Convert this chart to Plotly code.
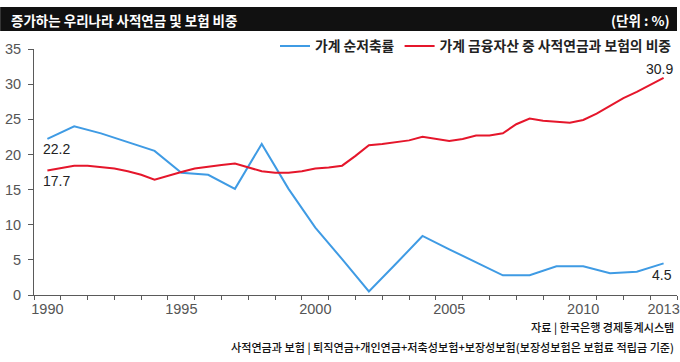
import plotly.graph_objects as go

# ---- data ----
years = [1990, 1991, 1992, 1993, 1994, 1995, 1996, 1997, 1998, 1999, 2000, 2001,
         2002, 2003, 2004, 2005, 2006, 2007, 2008, 2009, 2010, 2011, 2012, 2013]
saving_rate = [22.2, 24.0, 23.0, 21.8, 20.5, 17.4, 17.1, 15.1, 21.5, 15.1, 9.6, 5.1,
               0.5, 4.4, 8.4, 6.5, 4.7, 2.8, 2.8, 4.1, 4.1, 3.1, 3.3, 4.5]

half_years = [1990.0, 1990.5, 1991.0, 1991.5, 1992.0, 1992.5, 1993.0, 1993.5,
              1994.0, 1994.5, 1995.0, 1995.5, 1996.0, 1996.5, 1997.0, 1997.5,
              1998.0, 1998.5, 1999.0, 1999.5, 2000.0, 2000.5, 2001.0, 2001.5,
              2002.0, 2002.5, 2003.0, 2003.5, 2004.0, 2004.5, 2005.0, 2005.5,
              2006.0, 2006.5, 2007.0, 2007.5, 2008.0, 2008.5, 2009.0, 2009.5,
              2010.0, 2010.5, 2011.0, 2011.5, 2012.0, 2012.5, 2013.0]
pension_share = [17.7, 18.1, 18.4, 18.4, 18.2, 18.0, 17.6, 17.1,
                 16.4, 17.0, 17.5, 18.0, 18.3, 18.5, 18.7, 18.1,
                 17.6, 17.4, 17.4, 17.6, 18.0, 18.15, 18.4, 19.8,
                 21.3, 21.5, 21.7, 22.0, 22.5, 22.2, 21.9, 22.2,
                 22.7, 22.7, 23.0, 24.3, 25.1, 24.8, 24.6, 24.5,
                 24.9, 25.8, 26.9, 28.0, 28.9, 29.9, 30.9]

x_tick_vals = [1990, 1995, 2000, 2005, 2010, 2013]
x_tick_text = ["1990", "1995", "2000", "2005", "2010", "2013"]
y_tick_vals = [0, 5, 10, 15, 20, 25, 30, 35]

name_saving = "가계 순저축률"
name_pension = "가계 금융자산 중 사적연금과 보험의 비중"
title_text = "증가하는 우리나라 사적연금 및 보험 비중"
unit_text = "(단위 : %)"
source_text = "자료 | 한국은행 경제통계시스템"
note_text = "사적연금과 보험 | 퇴직연금+개인연금+저축성보험+보장성보험(보장성보험은 보험료 적립금 기준)"

BLUE = "#3f9be4"
RED = "#e5162b"
AXIS = "#5a5a5a"
KR = "Noto Sans CJK KR"
NUM = "Liberation Sans, Arial"

fig = go.Figure()
fig.add_trace(go.Scatter(x=years, y=saving_rate, mode="lines", name=name_saving,
                         line=dict(color=BLUE, width=2)))
fig.add_trace(go.Scatter(x=half_years, y=pension_share, mode="lines", name=name_pension,
                         line=dict(color=RED, width=2)))

W, H = 680, 362
L, R, T, B = 34, 0, 49, 67
pw, ph = W - L - R, H - T - B

def px_x(p):
    return (p - L) / pw

def px_y(p):
    return (H - B - p) / ph

# title bar
fig.add_shape(type="rect", xref="paper", yref="paper",
              x0=px_x(0), x1=px_x(W), y0=px_y(31), y1=px_y(7),
              fillcolor="#111111", line=dict(width=0), layer="above")

annotations = [
    dict(text=title_text, xref="paper", yref="paper", x=px_x(9), y=px_y(19.5),
         xanchor="left", yanchor="middle", showarrow=False,
         font=dict(family=KR, size=13.5, color="white", weight="bold")),
    dict(text=unit_text, xref="paper", yref="paper", x=px_x(675), y=px_y(19.5),
         xanchor="right", yanchor="middle", showarrow=False,
         font=dict(family=KR, size=13.5, color="white", weight="bold")),
    dict(text=source_text, xref="paper", yref="paper", x=px_x(679), y=px_y(327),
         xanchor="right", yanchor="middle", showarrow=False,
         font=dict(family=KR, size=11.1, color="#111", weight=500)),
    dict(text=note_text, xref="paper", yref="paper", x=px_x(679), y=px_y(347),
         xanchor="right", yanchor="middle", showarrow=False,
         font=dict(family=KR, size=11.1, color="#111", weight=500)),
    # value labels
    dict(text="22.2", x=years[0], y=saving_rate[0], xref="x", yref="y",
         showarrow=False, xanchor="center", yanchor="middle", xshift=9, yshift=-10,
         font=dict(family=NUM, size=14, color="#222")),
    dict(text="17.7", x=half_years[0], y=pension_share[0], xref="x", yref="y",
         showarrow=False, xanchor="center", yanchor="middle", xshift=9, yshift=-10,
         font=dict(family=NUM, size=14, color="#222")),
    dict(text="4.5", x=years[-1], y=saving_rate[-1], xref="x", yref="y",
         showarrow=False, xanchor="center", yanchor="middle", xshift=-2, yshift=-12,
         font=dict(family=NUM, size=14, color="#222")),
    dict(text="30.9", x=half_years[-1], y=pension_share[-1], xref="x", yref="y",
         showarrow=False, xanchor="center", yanchor="middle", xshift=-4, yshift=9,
         font=dict(family=NUM, size=14, color="#222")),
]

fig.update_layout(
    width=W, height=H,
    margin=dict(l=L, r=R, t=T, b=B, pad=0),
    paper_bgcolor="white", plot_bgcolor="white",
    showlegend=True,
    legend=dict(orientation="h", x=px_x(680), xanchor="right",
                y=px_y(46), yanchor="middle",
                font=dict(family=KR, size=13.8, color="#222", weight="bold"),
                bgcolor="rgba(0,0,0,0)", itemwidth=30, tracegroupgap=0),
    annotations=annotations,
    xaxis=dict(range=[1989.5, 2013.5], tickmode="array", tickvals=x_tick_vals,
               ticktext=x_tick_text, ticks="", showline=True, linecolor=AXIS,
               linewidth=1, showgrid=False, zeroline=False,
               tickfont=dict(family=NUM, size=14.5, color="#555"),
               ticklabelstandoff=1, ticklabeloverflow="allow",
               minor=dict(tickmode="linear", tick0=1989.5, dtick=1, ticks="outside",
                          ticklen=4, tickcolor=AXIS, tickwidth=1, showgrid=False)),
    yaxis=dict(range=[0, 35], tickmode="array", tickvals=y_tick_vals,
               ticks="outside", ticklen=5, tickcolor=AXIS, tickwidth=1,
               showline=True, linecolor=AXIS, linewidth=1, showgrid=False,
               zeroline=False, ticklabelstandoff=4,
               tickfont=dict(family=NUM, size=14.5, color="#555")),
)

fig.write_html("out.html", config={"displayModeBar": False},
               post_script="document.body.style.margin='0';document.body.style.overflow='hidden';")
